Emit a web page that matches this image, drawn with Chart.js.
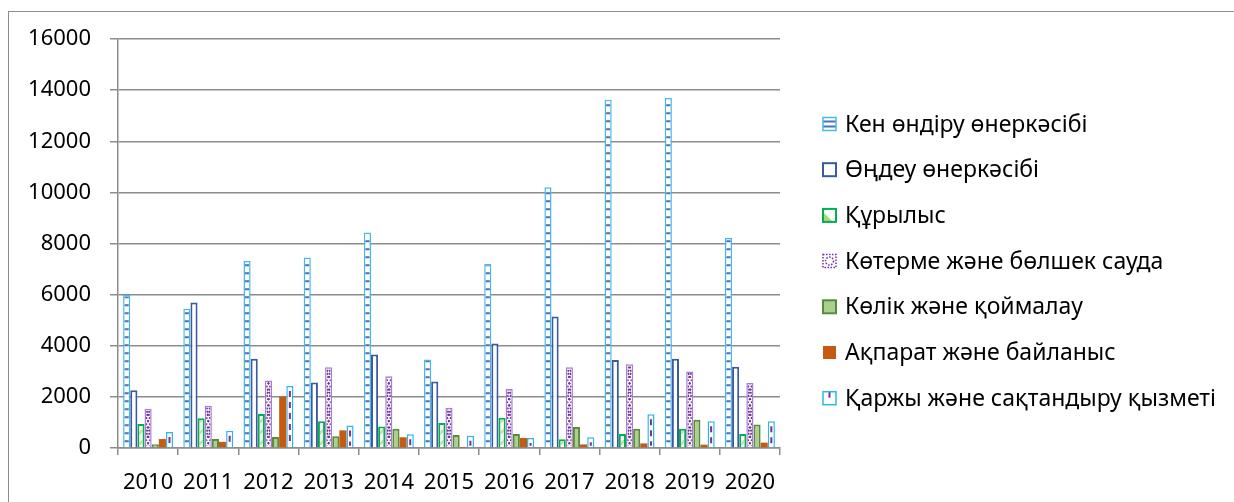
<!DOCTYPE html>
<html>
<head>
<meta charset="utf-8">
<script src="https://cdn.jsdelivr.net/npm/chart.js@4.4.1/dist/chart.umd.min.js"></script>
<style>
  html, body { margin: 0; padding: 0; background: #fff; overflow: hidden; }
  #wrap { position: relative; width: 1234px; height: 502px; }
  #frame { position: absolute; left: 8px; top: 11px; width: 1400px; height: 700px; border: 1px solid #8c8c8c; box-sizing: border-box; }
  canvas { position: absolute; left: 0; top: 0; }
</style>
</head>
<body>
<div id="wrap">
  <div id="frame"></div>
  <canvas id="c" width="1234" height="502"></canvas>
</div>
<script>
const years = ['2010','2011','2012','2013','2014','2015','2016','2017','2018','2019','2020'];
const mining       = [5990, 5450, 7320, 7450, 8430, 3460, 7200, 10200, 13620, 13690, 8220];
const processing   = [2260, 5690, 3490, 2560, 3660, 2600, 4090, 5140, 3440, 3490, 3180];
const construction = [940, 1160, 1330, 1050, 840, 980, 1180, 340, 550, 750, 550];
const trade        = [1540, 1650, 2640, 3160, 2810, 1570, 2310, 3160, 3280, 2990, 2540];
const transport    = [150, 350, 430, 460, 750, 510, 550, 820, 750, 1110, 920];
const info         = [350, 240, 2010, 690, 420, 15, 390, 140, 180, 130, 210];
const finance      = [630, 670, 2430, 880, 540, 480, 390, 420, 1320, 1050, 1050];
const seriesNames = [
  'Кен өндіру өнеркәсібі',
  'Өңдеу өнеркәсібі',
  'Құрылыс',
  'Көтерме және бөлшек сауда',
  'Көлік және қоймалау',
  'Ақпарат және байланыс',
  'Қаржы және сақтандыру қызметі'
];
const yTicks = [0, 2000, 4000, 6000, 8000, 10000, 12000, 14000, 16000];

const FONT = '"Noto Sans", "Open Sans", sans-serif';
const C = {
  miningBorder: '#45b9ea', miningStripe: '#4472c4',
  procBorder: '#3a5a9e',
  consBorder: '#00b050', consStripe: 'rgba(146,208,80,0.6)',
  tradeBorder: '#a77fd0', tradeMark: '#7030a0',
  transFill: '#a9d18e', transBorder: '#5a8a3a',
  infoFill: '#c55a11',
  finBorder: '#2eb6ec', finMark: '#7030a0'
};

const datasets = [
  {label: seriesNames[0], data: mining, backgroundColor: '#ffffff', borderColor: C.miningBorder, borderWidth: 1.5, deco: 'mining'},
  {label: seriesNames[1], data: processing, backgroundColor: '#ffffff', borderColor: C.procBorder, borderWidth: 2, deco: null},
  {label: seriesNames[2], data: construction, backgroundColor: '#ffffff', borderColor: C.consBorder, borderWidth: 2, deco: 'cons'},
  {label: seriesNames[3], data: trade, backgroundColor: '#ffffff', borderColor: C.tradeBorder, borderWidth: 1.5, deco: 'trade'},
  {label: seriesNames[4], data: transport, backgroundColor: C.transFill, borderColor: C.transBorder, borderWidth: 2, deco: null},
  {label: seriesNames[5], data: info, backgroundColor: C.infoFill, borderColor: C.infoFill, borderWidth: 0, deco: null},
  {label: seriesNames[6], data: finance, backgroundColor: '#ffffff', borderColor: C.finBorder, borderWidth: 1.5, deco: 'fin'}
];
datasets.forEach(d => { d.categoryPercentage = 0.83; d.barPercentage = 1.0; });

const decoPlugin = {
  id: 'deco',
  afterDatasetsDraw(chart) {
    const ctx = chart.ctx;
    chart.data.datasets.forEach((ds, i) => {
      if (!ds.deco) return;
      const meta = chart.getDatasetMeta(i);
      meta.data.forEach(el => {
        const p = el.getProps(['x','y','base','width'], true);
        const l = p.x - p.width/2, r = p.x + p.width/2;
        const top = Math.min(p.y, p.base), bot = Math.max(p.y, p.base);
        const bw = ds.borderWidth;
        ctx.save();
        ctx.beginPath();
        ctx.rect(l + bw, top + bw, r - l - 2*bw, bot - top - 2*bw);
        ctx.clip();
        if (ds.deco === 'mining') {
          ctx.fillStyle = C.miningStripe;
          for (let y = bot - 6; y > top + 1; y -= 8) {
            ctx.fillRect(l, y - 1, r - l, 2);
          }
        } else if (ds.deco === 'cons') {
          ctx.strokeStyle = C.consStripe;
          ctx.lineWidth = 2.5;
          for (let y = bot + 10; y > top - 20; y -= 11) {
            ctx.beginPath();
            ctx.moveTo(l, y);
            ctx.lineTo(r, y - (r - l));
            ctx.stroke();
          }
        } else if (ds.deco === 'trade') {
          ctx.strokeStyle = C.tradeMark;
          ctx.lineWidth = 1.8;
          ctx.setLineDash([2, 1.6]);
          const h = 7.5;
          ctx.beginPath();
          let k = 0;
          ctx.moveTo(l + 1.5, bot);
          for (let y = bot; y > top - h; y -= h, k++) {
            ctx.lineTo((k % 2 === 0) ? r - 1.5 : l + 1.5, y - h);
          }
          ctx.stroke();
          ctx.beginPath();
          k = 0;
          ctx.moveTo(r - 1.5, bot);
          for (let y = bot; y > top - h; y -= h, k++) {
            ctx.lineTo((k % 2 === 0) ? l + 1.5 : r - 1.5, y - h);
          }
          ctx.stroke();
        } else if (ds.deco === 'fin') {
          ctx.strokeStyle = C.finMark;
          ctx.lineWidth = 2;
          ctx.setLineDash([6, 5]);
          ctx.beginPath();
          ctx.moveTo(p.x, top + 5);
          ctx.lineTo(p.x, bot);
          ctx.stroke();
        }
        ctx.restore();
      });
    });
  }
};

const legendPlugin = {
  id: 'customLegend',
  afterDraw(chart) {
    const ctx = chart.ctx;
    const x0 = 823, tx = 845, y0 = 124, dy = 45.7, s = 13;
    ctx.save();
    ctx.font = '23px ' + FONT;
    ctx.textBaseline = 'middle';
    ctx.textAlign = 'left';
    seriesNames.forEach((name, i) => {
      const cy = y0 + i * dy;
      const bx = x0, by = cy - s/2;
      ctx.save();
      if (i === 0) {
        ctx.fillStyle = '#fff'; ctx.fillRect(bx, by, s, s);
        ctx.fillStyle = C.miningStripe; ctx.fillRect(bx, by + 3, s, 2); ctx.fillRect(bx, by + 8, s, 2);
        ctx.strokeStyle = C.miningBorder; ctx.lineWidth = 1.5; ctx.strokeRect(bx, by, s, s);
      } else if (i === 1) {
        ctx.fillStyle = '#fff'; ctx.fillRect(bx, by, s, s);
        ctx.strokeStyle = C.procBorder; ctx.lineWidth = 2; ctx.strokeRect(bx, by, s, s);
      } else if (i === 2) {
        ctx.fillStyle = '#fff'; ctx.fillRect(bx, by, s, s);
        ctx.fillStyle = 'rgba(146,208,80,0.8)';
        ctx.beginPath(); ctx.moveTo(bx, by + s); ctx.lineTo(bx, by + 3); ctx.lineTo(bx + s - 3, by + s); ctx.closePath(); ctx.fill();
        ctx.strokeStyle = C.consBorder; ctx.lineWidth = 2; ctx.strokeRect(bx, by, s, s);
      } else if (i === 3) {
        ctx.fillStyle = '#fff'; ctx.fillRect(bx, by, s, s);
        ctx.strokeStyle = C.tradeMark; ctx.lineWidth = 1.5; ctx.setLineDash([1.5, 1.5]);
        ctx.strokeRect(bx, by, s, s);
        ctx.beginPath(); ctx.arc(bx + s/2, by + s/2, 4, 0, Math.PI * 2); ctx.stroke();
      } else if (i === 4) {
        ctx.fillStyle = C.transFill; ctx.fillRect(bx, by, s, s);
        ctx.strokeStyle = C.transBorder; ctx.lineWidth = 2; ctx.strokeRect(bx, by, s, s);
      } else if (i === 5) {
        ctx.fillStyle = C.infoFill; ctx.fillRect(bx, by, s, s);
      } else {
        ctx.fillStyle = '#fff'; ctx.fillRect(bx, by, s, s);
        ctx.fillStyle = C.finMark; ctx.fillRect(bx + s/2 - 1, by, 2, 6);
        ctx.strokeStyle = C.finBorder; ctx.lineWidth = 1.5; ctx.strokeRect(bx, by, s, s);
      }
      ctx.restore();
      ctx.fillStyle = '#000';
      ctx.fillText(name, tx, cy + 1);
    });
    ctx.restore();
  }
};

new Chart(document.getElementById('c'), {
  type: 'bar',
  data: { labels: years, datasets },
  options: {
    responsive: false,
    animation: false,
    events: [],
    layout: { padding: { left: 0, top: 39, right: 454, bottom: 0 } },
    plugins: { legend: { display: false }, tooltip: { enabled: false }, title: { display: false } },
    scales: {
      x: {
        offset: true,
        grid: { display: true, drawOnChartArea: false, drawTicks: true, tickLength: 7, color: '#8c8c8c', lineWidth: 1.5, offset: true },
        border: { display: true, color: '#8c8c8c', width: 1.5 },
        ticks: { color: '#000', font: { family: FONT, size: 22 }, padding: 15, maxRotation: 0, autoSkip: false },
        afterFit(scale) { scale.height = 54; }
      },
      y: {
        min: 0, max: 16000,
        afterBuildTicks(scale) { scale.ticks = yTicks.map(v => ({ value: v })); },
        grid: { color: '#8c8c8c', lineWidth: 1.5, drawTicks: true, tickLength: 8 },
        border: { display: true, color: '#8c8c8c', width: 1.5 },
        ticks: { color: '#000', font: { family: FONT, size: 22 }, padding: 19, callback: v => String(v) },
        afterFit(scale) { scale.width = 118; }
      }
    }
  },
  plugins: [decoPlugin, legendPlugin]
});
</script>
</body>
</html>
